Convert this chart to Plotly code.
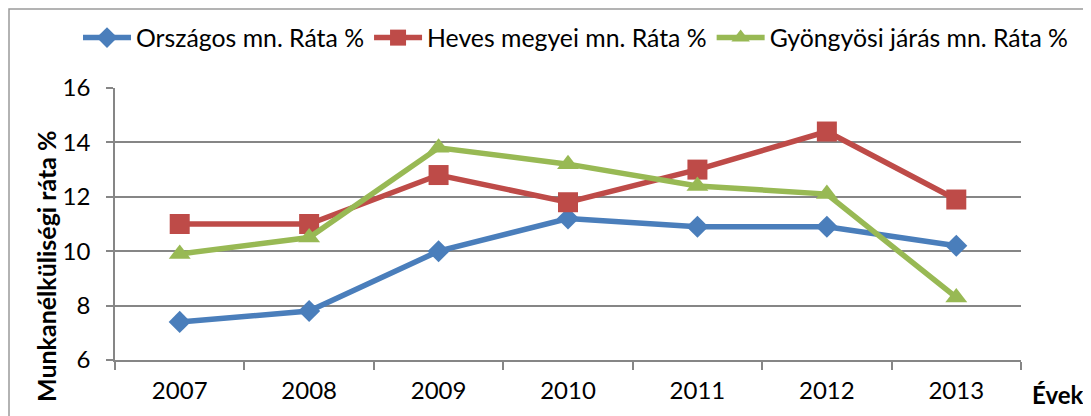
import plotly.graph_objects as go

years = ["2007", "2008", "2009", "2010", "2011", "2012", "2013"]
orszagos = [7.4, 7.8, 10.0, 11.2, 10.9, 10.9, 10.2]
heves = [11.0, 11.0, 12.8, 11.8, 13.0, 14.4, 11.9]
gyongyosi = [9.9, 10.5, 13.8, 13.2, 12.4, 12.1, 8.3]

names = ["Országos mn. Ráta %", "Heves megyei mn. Ráta %", "Gyöngyösi járás mn. Ráta %"]
colors = ["#4A7EBB", "#BE4B48", "#98B954"]
symbols = ["diamond", "square", "triangle-up"]
sizes = [17, 20, 19]
series = [orszagos, heves, gyongyosi]

FONT = "Lato"
OFF = 8  # browser default body margin

fig = go.Figure()
for n, c, s, sz, v in zip(names, colors, symbols, sizes, series):
    fig.add_trace(go.Scatter(
        x=years, y=v, name=n, mode="lines+markers",
        line=dict(color=c, width=5.5),
        marker=dict(symbol=s, size=sz, color=c, line=dict(width=0)),
    ))

W, H = 1091 - OFF, 416 - OFF
# target screen coordinates of the plot area
L, R, T, B = 115 - OFF, 1021 - OFF, 88 - OFF, 360 - OFF
pw, ph = R - L, B - T

def px(x):
    return (x - OFF - L) / pw

def py(y):
    return (B - (y - OFF)) / ph

fig.update_layout(
    width=W, height=H,
    margin=dict(l=L, r=W - R, t=T, b=H - B, autoexpand=False),
    plot_bgcolor="white", paper_bgcolor="white",
    font=dict(family=FONT, size=24, color="#000000"),
    showlegend=True,
    legend=dict(orientation="h", x=px(78), y=py(15), xanchor="left", yanchor="top",
                font=dict(size=24.8, family=FONT), itemwidth=48, tracegroupgap=0,
                bgcolor="rgba(0,0,0,0)"),
    xaxis=dict(type="category", range=[-0.5, 6.5], showgrid=False,
               showline=True, linecolor="#868686", linewidth=1.5,
               ticks="outside", tickson="boundaries", ticklen=8, tickcolor="#868686",
               tickwidth=1.5, tickfont=dict(size=24, family=FONT), ticklabelstandoff=8,
               fixedrange=True, automargin=False),
    yaxis=dict(range=[6, 16], dtick=2, showgrid=True, gridcolor="#868686", gridwidth=1.5,
               showline=True, linecolor="#868686", linewidth=1.5,
               ticks="outside", ticklen=7, tickcolor="#868686", tickwidth=1.5,
               tickfont=dict(size=24, family=FONT), ticklabelstandoff=11,
               zeroline=False, fixedrange=True, automargin=False),
    shapes=[dict(type="rect", xref="paper", yref="paper",
                 x0=px(OFF + 1), x1=px(1100), y0=py(440), y1=py(OFF + 1),
                 line=dict(color="#9a9a9a", width=1.5), fillcolor="rgba(0,0,0,0)", layer="below")],
    annotations=[
        dict(text="<b>Munkanélküliségi ráta %</b>", xref="paper", yref="paper",
             x=px(46), y=py(266), textangle=-90, showarrow=False,
             font=dict(size=25, family=FONT), xanchor="center", yanchor="middle"),
        dict(text="<b>Évek</b>", xref="paper", yref="paper",
             x=px(1057), y=py(394), showarrow=False,
             font=dict(size=24, family=FONT), xanchor="center", yanchor="middle"),
    ],
)

fig.write_html("out.html")
